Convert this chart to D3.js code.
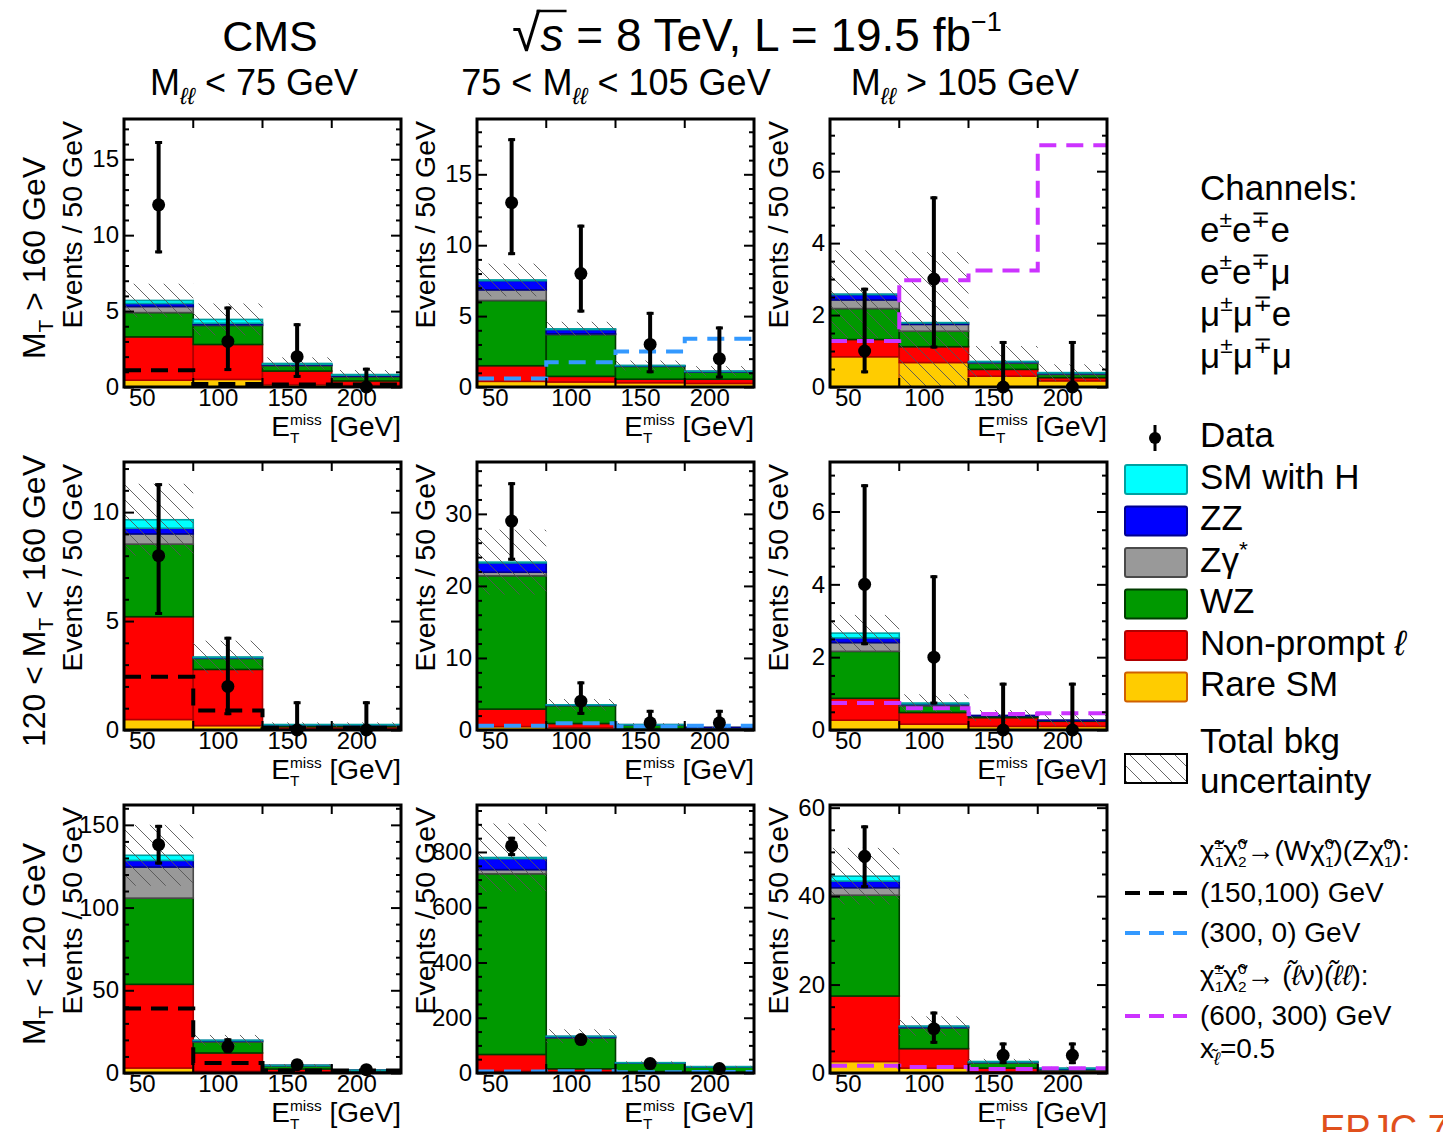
<!DOCTYPE html>
<html>
<head>
<meta charset="utf-8">
<script src="https://cdn.jsdelivr.net/npm/d3@7"></script>
<style>
  body { margin: 0; background: #fff; }
  text { font-family: "Liberation Sans", Arial, Helvetica, sans-serif; }
</style>
</head>
<body>
<svg id="chart" width="1443" height="1132"></svg>
<script>
// MET bins (lower edges, GeV)
var binLabels = ["50", "100", "150", "200"];

// panels in reading order: rows MT>160, 120<MT<160, MT<120 ; cols Mll<75, 75-105, >105
var rareSM = [
  [0.45, 0.5, 0.15, 0.1], [0.4, 0.35, 0.3, 0.25], [0.84, 0.68, 0.3, 0.17],
  [0.48, 0.2, 0.05, 0.05], [0.47, 0.3, 0.1, 0.05], [0.27, 0.16, 0.1, 0.1],
  [3, 1, 0.3, 0.1], [6, 2, 1, 1], [2.6, 1.1, 0.3, 0.2]
];
var nonPrompt = [
  [2.85, 2.3, 0.9, 0.3], [1.1, 0.4, 0.25, 0.3], [0.48, 0.44, 0.19, 0.09],
  [4.72, 2.58, 0.1, 0.1], [2.43, 0.6, 0.1, 0.07], [0.6, 0.32, 0.24, 0.14],
  [50.6, 11.1, 2.1, 0.7], [61, 13, 4, 2], [14.8, 4.4, 0.8, 0.3]
];
var wzBkg = [
  [1.6, 1.25, 0.35, 0.28], [4.6, 2.95, 0.9, 0.5], [0.86, 0.43, 0.17, 0.09],
  [3.33, 0.5, 0.07, 0.07], [18.5, 2.5, 0.5, 0.21], [1.29, 0.18, 0.05, 0.02],
  [52.1, 6.7, 2.05, 0.7], [654, 112, 31, 19], [22.8, 4.7, 1.2, 0.25]
];
var zgBkg = [
  [0.4, 0.05, 0.05, 0.04], [0.75, 0.05, 0.02, 0.02], [0.24, 0.19, 0.02, 0.02],
  [0.47, 0.02, 0.01, 0.01], [0.5, 0.02, 0.02, 0.01], [0.24, 0.04, 0, 0],
  [18.8, 0.5, 0.05, 0.05], [15, 2, 0.5, 0.3], [1.7, 0.1, 0.1, 0.1]
];
var zzBkg = [
  [0.2, 0.1, 0.05, 0.06], [0.65, 0.3, 0.03, 0.03], [0.15, 0.04, 0.02, 0.02],
  [0.26, 0.02, 0.01, 0.01], [1.3, 0.06, 0.02, 0.01], [0.13, 0.02, 0.01, 0.01],
  [4, 0.3, 0.05, 0.05], [40, 3, 0.5, 0.3], [1.5, 0.2, 0.1, 0.15]
];
var smHiggs = [
  [0.2, 0.25, 0.05, 0.04], [0.05, 0.05, 0.02, 0.02], [0.01, 0.01, 0.01, 0.01],
  [0.39, 0.03, 0.01, 0.01], [0.1, 0.02, 0.01, 0], [0.13, 0.02, 0, 0],
  [3.1, 0.2, 0.05, 0.05], [4, 1, 0.3, 0.4], [1.1, 0.1, 0.1, 0.1]
];
var bkgUnc = [
  [1.1, 1.05, 0.4, 0.3], [1.15, 0.5, 0.35, 0.35], [1.22, 1.96, 0.43, 0.23],
  [1.65, 0.75, 0.1, 0.1], [4.5, 0.8, 0.2, 0.1], [0.5, 0.24, 0.15, 0.15],
  [18.4, 3.2, 0.8, 0.3], [123, 25, 5, 3], [6.4, 2.2, 0.6, 0.3]
];
var dataObs = [
  [12, 3, 2, 0], [13, 8, 3, 2], [1, 3, 0, 0],
  [8, 2, 0, 0], [29, 4, 1, 1], [4, 2, 0, 0],
  [138, 16, 5, 2], [822, 121, 34, 16], [49, 10, 4, 4]
];
var dataErrUp = [
  [4.2, 2.3, 2.2, 1.27], [4.55, 3.45, 2.3, 2.27], [1.76, 2.3, 1.28, 1.28],
  [3.33, 2.28, 1.32, 1.32], [5.4, 2.75, 1.8, 1.8], [2.75, 2.25, 1.3, 1.3],
  [12, 5, 3.4, 2.6], [33, 11, 6, 4], [7, 3.9, 2.9, 2.9]
];
var dataErrDn = [
  [3.2, 1.95, 1.4, 0], [3.7, 2.75, 2.03, 1.4], [0.62, 1.93, 0, 0],
  [2.72, 1.32, 0, 0], [5.5, 1.9, 0.83, 0.83], [1.67, 1.3, 0, 0],
  [12, 4, 2.2, 1.3], [37, 11, 6, 4], [7.2, 3.4, 2, 2]
];
// signal benchmarks (null = not drawn in that panel)
var sigWZ150 = [[1.1, 0.2, 0.17, 0.17], null, null, [2.44, 0.89, 0.1, 0.1], null, null, [39, 6.1, 1.5, 1.5], null, null];
var sigWZ300 = [null, [0.6, 1.75, 2.5, 3.4], null, null, [0.6, 0.93, 0.5, 0.6], null, null, [5, 6, 3, 4], null];
var sigSlep = [null, null, [1.28, 2.97, 3.24, 6.72], null, null, [0.74, 0.6, 0.44, 0.46], null, null, [1.66, 1.36, 0.9, 1.1]];

// y axis ranges
var yMax = [17.65, 18.9, 7.45, 12.3, 37.2, 7.36, 162, 970, 60.6];
var yMajor = [5, 5, 2, 5, 10, 2, 50, 200, 20];
var yMinor = [1, 1, 0.5, 1, 2, 0.5, 10, 50, 5];

var colTitles = [
  [["M"], ["ℓℓ", "sub", 1], [" < 75 GeV"]],
  [["75 < M"], ["ℓℓ", "sub", 1], [" < 105 GeV"]],
  [["M"], ["ℓℓ", "sub", 1], [" > 105 GeV"]]
];
var rowTitles = [
  [["M"], ["T", "sub"], [" > 160 GeV"]],
  [["120 < M"], ["T", "sub"], [" < 160 GeV"]],
  [["M"], ["T", "sub"], [" < 120 GeV"]]
];

var components = [
  {name: "Rare SM", vals: rareSM, fill: "#ffcc00", line: "#d06000"},
  {name: "Non-prompt", vals: nonPrompt, fill: "#ff0000", line: "#b00000"},
  {name: "WZ", vals: wzBkg, fill: "#009900", line: "#003c00"},
  {name: "Zg", vals: zgBkg, fill: "#999999", line: "#4a4a4a"},
  {name: "ZZ", vals: zzBkg, fill: "#0000ff", line: "#000090"},
  {name: "SM with H", vals: smHiggs, fill: "#00ffff", line: "#00a0a0"}
];
var signals = [
  {vals: sigWZ150, color: "#000000"},
  {vals: sigWZ300, color: "#3399ff"},
  {vals: sigSlep, color: "#cc33ff"}
];

var colLeft = [124, 477, 830], rowTop = [119, 462, 805];
var W = 277, H = 268;
var FONT = '"Liberation Sans", Arial, Helvetica, sans-serif';

var svg = d3.select("#chart");
var defs = svg.append("defs");
var hatch = defs.append("pattern").attr("id", "hatch")
    .attr("patternUnits", "userSpaceOnUse").attr("width", 15).attr("height", 15);
hatch.append("path").attr("d", "M0,0L15,15M-3,12L3,18M12,-3L18,3")
    .attr("stroke", "#555").attr("stroke-width", 0.9);

// rich text helper: parts = [text, kind, italic]
function rich(sel, parts, size) {
  var off = 0, pend = 0;
  parts.forEach(function(p) {
    var kind = p[1] || "n";
    if (kind === "ss") {
      var o1 = -0.38 * size, o2 = 0.26 * size;
      var a = sel.append("tspan").attr("dx", pend).attr("dy", o1 - off).attr("font-size", 0.55 * size).text(p[0][0]);
      var w1 = a.node().getComputedTextLength();
      var b = sel.append("tspan").attr("dx", -w1).attr("dy", o2 - o1).attr("font-size", 0.55 * size).text(p[0][1]);
      var w2 = b.node().getComputedTextLength();
      off = o2; pend = Math.max(0, w1 - w2);
      return;
    }
    var o = kind === "sup" ? -0.42 * size : kind === "sub" ? 0.26 * size : 0;
    var t = sel.append("tspan").attr("dx", pend).attr("dy", o - off).text(p[0]);
    if (kind !== "n") t.attr("font-size", 0.65 * size);
    if (p[2]) t.style("font-style", "italic");
    off = o; pend = 0;
  });
}

function drawPanel(p) {
  var r = Math.floor(p / 3), c = p % 3;
  var left = colLeft[c], top = rowTop[r];
  var x = d3.scaleBand().domain(binLabels).range([left, left + W]);
  var y = d3.scaleLinear().domain([0, yMax[p]]).range([top + H, top]);
  var g = svg.append("g");

  defs.append("clipPath").attr("id", "clip" + p)
    .append("rect").attr("x", left).attr("y", top).attr("width", W).attr("height", H);

  // stacked backgrounds
  var cum = [0, 0, 0, 0];
  var stack = g.append("g").attr("clip-path", "url(#clip" + p + ")");
  components.forEach(function(comp) {
    var v = comp.vals[p];
    binLabels.forEach(function(b, i) {
      var y0 = cum[i], y1 = cum[i] + v[i];
      if (v[i] > 0) {
        stack.append("rect")
          .attr("x", x(b)).attr("width", x.bandwidth())
          .attr("y", y(y1)).attr("height", Math.max(0, y(y0) - y(y1)))
          .attr("fill", comp.fill).attr("stroke", comp.line).attr("stroke-width", 1.6);
      }
      cum[i] = y1;
    });
  });

  // total background uncertainty
  binLabels.forEach(function(b, i) {
    var lo = Math.max(0, cum[i] - bkgUnc[p][i]), hi = cum[i] + bkgUnc[p][i];
    stack.append("rect")
      .attr("x", x(b)).attr("width", x.bandwidth())
      .attr("y", y(hi)).attr("height", y(lo) - y(hi))
      .attr("fill", "url(#hatch)");
  });

  // signal benchmarks
  signals.forEach(function(s) {
    var v = s.vals[p];
    if (!v) return;
    var pts = binLabels.map(function(b, i) { return [x(b), y(v[i])]; });
    pts.push([left + W, y(v[v.length - 1])]);
    stack.append("path")
      .attr("d", d3.line().curve(d3.curveStepAfter)(pts))
      .attr("fill", "none").attr("stroke", s.color)
      .attr("stroke-width", 4).attr("stroke-dasharray", "17,10");
  });

  // frame and ticks
  g.append("rect").attr("x", left).attr("y", top).attr("width", W).attr("height", H)
    .attr("fill", "none").attr("stroke", "#000").attr("stroke-width", 3);

  var major = d3.range(0, yMax[p] + 1e-9, yMajor[p]);
  var minor = d3.range(0, yMax[p] + 1e-9, yMinor[p]).filter(function(v) {
    return Math.abs(v / yMajor[p] - Math.round(v / yMajor[p])) > 1e-6;
  });
  var axL = g.append("g").attr("transform", "translate(" + left + ",0)")
    .call(d3.axisLeft(y).tickValues(major).tickSizeInner(-10).tickSizeOuter(0).tickPadding(5).tickFormat(d3.format("d")));
  axL.attr("font-size", 24).attr("font-family", FONT);
  axL.select(".domain").remove();
  axL.selectAll("line").attr("stroke-width", 2);
  axL.selectAll("text").attr("fill", "#000");
  var axLm = g.append("g").attr("transform", "translate(" + left + ",0)")
    .call(d3.axisLeft(y).tickValues(minor).tickSizeInner(-5).tickSizeOuter(0).tickFormat(""));
  axLm.select(".domain").remove();
  axLm.selectAll("line").attr("stroke-width", 2);
  var axR = g.append("g").attr("transform", "translate(" + (left + W) + ",0)")
    .call(d3.axisRight(y).tickValues(major).tickSizeInner(-10).tickSizeOuter(0).tickFormat(""));
  axR.select(".domain").remove();
  axR.selectAll("line").attr("stroke-width", 2);
  var axRm = g.append("g").attr("transform", "translate(" + (left + W) + ",0)")
    .call(d3.axisRight(y).tickValues(minor).tickSizeInner(-5).tickSizeOuter(0).tickFormat(""));
  axRm.select(".domain").remove();
  axRm.selectAll("line").attr("stroke-width", 2);

  binLabels.slice(1).forEach(function(b) {
    g.append("line").attr("x1", x(b)).attr("x2", x(b)).attr("y1", top).attr("y2", top + 9)
      .attr("stroke", "#000").attr("stroke-width", 2);
    g.append("line").attr("x1", x(b)).attr("x2", x(b)).attr("y1", top + H).attr("y2", top + H - 9)
      .attr("stroke", "#000").attr("stroke-width", 2);
  });
  binLabels.forEach(function(b) {
    g.append("text").attr("x", x(b) + 5).attr("y", top + H + 19)
      .attr("font-size", 24).text(b);
  });

  // data points
  binLabels.forEach(function(b, i) {
    var cx = x(b) + x.bandwidth() / 2, v = dataObs[p][i];
    var yt = y(v + dataErrUp[p][i]), yb = y(v - dataErrDn[p][i]);
    g.append("line").attr("x1", cx).attr("x2", cx).attr("y1", yt).attr("y2", yb)
      .attr("stroke", "#000").attr("stroke-width", 4);
    g.append("line").attr("x1", cx - 3.5).attr("x2", cx + 3.5).attr("y1", yt + 1.5).attr("y2", yt + 1.5)
      .attr("stroke", "#000").attr("stroke-width", 3);
    if (dataErrDn[p][i] > 0)
      g.append("line").attr("x1", cx - 3.5).attr("x2", cx + 3.5).attr("y1", yb - 1.5).attr("y2", yb - 1.5)
        .attr("stroke", "#000").attr("stroke-width", 3);
    g.append("circle").attr("cx", cx).attr("cy", y(v)).attr("r", 6.5).attr("fill", "#000");
  });

  // axis titles
  g.append("text").attr("transform", "translate(" + (left - 42) + "," + (top + 2) + ") rotate(-90)")
    .attr("text-anchor", "end").attr("font-size", 28.5).text("Events / 50 GeV");
  var xt = g.append("text").attr("x", left + W).attr("y", top + H + 48.5)
    .attr("text-anchor", "end").attr("font-size", 28);
  rich(xt, [["E"], [["miss", "T"], "ss"], [" [GeV]"]], 28);
}

for (var p = 0; p < 9; p++) drawPanel(p);

// headers
svg.append("text").attr("x", 270).attr("y", 51).attr("text-anchor", "middle")
  .attr("font-size", 43).text("CMS");
var tt = svg.append("text").attr("x", 512).attr("y", 51).attr("font-size", 46);
var rad = tt.append("tspan").attr("font-size", 52).text("√");
var sT = tt.append("tspan").style("font-style", "italic").text("s");
tt.append("tspan").text(" = 8 TeV, L = 19.5 fb");
tt.append("tspan").attr("dy", -20).attr("font-size", 27).text("−1");
var wr = rad.node().getComputedTextLength(), ws = sT.node().getComputedTextLength();
svg.append("line").attr("x1", 512 + wr - 4).attr("x2", 512 + wr + ws + 3)
  .attr("y1", 11).attr("y2", 11).attr("stroke", "#000").attr("stroke-width", 2.5);

var colCenter = [254, 616, 965];
colTitles.forEach(function(t, c) {
  var e = svg.append("text").attr("x", colCenter[c]).attr("y", 95)
    .attr("text-anchor", "middle").attr("font-size", 36);
  rich(e, t, 36);
});
rowTitles.forEach(function(t, r) {
  var e = svg.append("text")
    .attr("transform", "translate(45," + (rowTop[r] + H / 2 + 5) + ") rotate(-90)")
    .attr("text-anchor", "middle").attr("font-size", 32);
  rich(e, t, 32);
});

// legend: channels
var LX = 1200;
svg.append("text").attr("x", LX).attr("y", 200).attr("font-size", 35).text("Channels:");
[
  [["e"], ["±", "sup"], ["e"], ["∓", "sup"], ["e"]],
  [["e"], ["±", "sup"], ["e"], ["∓", "sup"], ["μ"]],
  [["μ"], ["±", "sup"], ["μ"], ["∓", "sup"], ["e"]],
  [["μ"], ["±", "sup"], ["μ"], ["∓", "sup"], ["μ"]]
].forEach(function(t, i) {
  var e = svg.append("text").attr("x", LX).attr("y", 242 + 42 * i).attr("font-size", 35);
  rich(e, t, 35);
});

// legend: data and backgrounds
svg.append("line").attr("x1", 1155).attr("x2", 1155).attr("y1", 425).attr("y2", 451)
  .attr("stroke", "#000").attr("stroke-width", 3);
svg.append("circle").attr("cx", 1155).attr("cy", 438).attr("r", 6).attr("fill", "#000");
svg.append("text").attr("x", LX).attr("y", 447).attr("font-size", 35).text("Data");

var legendItems = [
  {comp: components[5], label: [["SM with H"]]},
  {comp: components[4], label: [["ZZ"]]},
  {comp: components[3], label: [["Zγ"], ["*", "sup"]]},
  {comp: components[2], label: [["WZ"]]},
  {comp: components[1], label: [["Non-prompt "], ["ℓ", "n", 1]]},
  {comp: components[0], label: [["Rare SM"]]}
];
legendItems.forEach(function(d, i) {
  var yy = 465 + 41.5 * i;
  svg.append("rect").attr("x", 1125).attr("y", yy).attr("width", 62).attr("height", 29).attr("rx", 2)
    .attr("fill", d.comp.fill).attr("stroke", d.comp.line).attr("stroke-width", 2);
  var e = svg.append("text").attr("x", LX).attr("y", yy + 23.5).attr("font-size", 35);
  rich(e, d.label, 35);
});
svg.append("rect").attr("x", 1125).attr("y", 754).attr("width", 62).attr("height", 29)
  .attr("fill", "url(#hatch)").attr("stroke", "#000").attr("stroke-width", 2);
svg.append("text").attr("x", LX).attr("y", 753).attr("font-size", 35).text("Total bkg");
svg.append("text").attr("x", LX).attr("y", 793).attr("font-size", 35).text("uncertainty");

// legend: signals
var sigLegend = [
  {y: 860, label: [["χ̃"], [["±", "1"], "ss"], ["χ̃"], [["0", "2"], "ss"], ["→(Wχ̃"], [["0", "1"], "ss"], [")(Zχ̃"], [["0", "1"], "ss"], ["):"]]},
  {y: 902, label: [["(150,100) GeV"]], color: signals[0].color},
  {y: 942, label: [["(300, 0) GeV"]], color: signals[1].color},
  {y: 985, label: [["χ̃"], [["±", "1"], "ss"], ["χ̃"], [["0", "2"], "ss"], ["→ ("], ["ℓ̃", "n", 1], ["ν)("], ["ℓ̃ℓ", "n", 1], ["):"]]},
  {y: 1025, label: [["(600, 300) GeV"]], color: signals[2].color},
  {y: 1058, label: [["x"], ["ℓ̃", "sub", 1], ["=0.5"]]}
];
sigLegend.forEach(function(d) {
  var e = svg.append("text").attr("x", LX).attr("y", d.y).attr("font-size", 28);
  rich(e, d.label, 28);
  if (d.color) {
    svg.append("line").attr("x1", 1125).attr("x2", 1187).attr("y1", d.y - 9).attr("y2", d.y - 9)
      .attr("stroke", d.color).attr("stroke-width", 4).attr("stroke-dasharray", "15,9");
  }
});

svg.append("text").attr("x", 1320).attr("y", 1142).attr("font-size", 38)
  .attr("fill", "#e0501c").text("EPJC 74");
</script>
</body>
</html>
